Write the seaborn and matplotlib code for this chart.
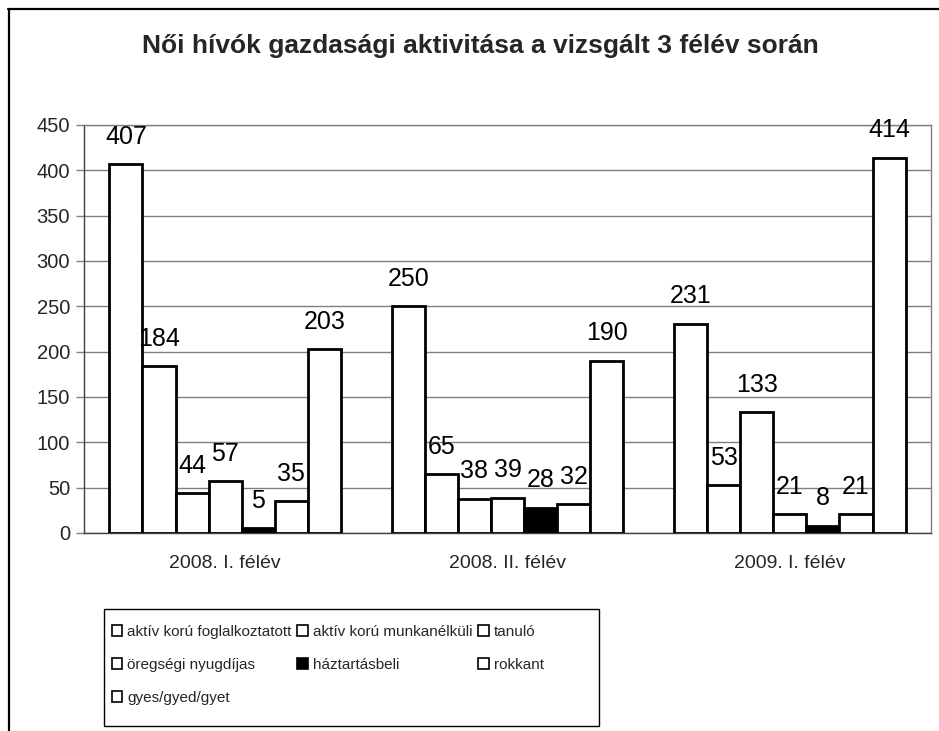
import matplotlib
matplotlib.use("Agg")
import matplotlib.pyplot as plt
from matplotlib.lines import Line2D
from matplotlib.patches import Patch, Rectangle
import seaborn as sns
import pandas as pd

categories = ["2008. I. félév", "2008. II. félév", "2009. I. félév"]
series = ["aktív korú foglalkoztatott", "aktív korú munkanélküli", "tanuló",
          "öregségi nyugdíjas", "háztartásbeli", "rokkant", "gyes/gyed/gyet"]
aktiv_foglalkoztatott = [407, 250, 231]
aktiv_munkanelkuli = [184, 65, 53]
tanulo = [44, 38, 133]
oregsegi_nyugdijas = [57, 39, 21]
haztartasbeli = [5, 28, 8]
rokkant = [35, 32, 21]
gyes = [203, 190, 414]
values = [aktiv_foglalkoztatott, aktiv_munkanelkuli, tanulo, oregsegi_nyugdijas,
          haztartasbeli, rokkant, gyes]
yticks = [0, 50, 100, 150, 200, 250, 300, 350, 400, 450]

rows = []
for s, vals in zip(series, values):
    for c, v in zip(categories, vals):
        rows.append({"cat": c, "series": s, "value": v})
df = pd.DataFrame(rows)

sns.set_style("white")
plt.rcParams["font.family"] = ["Liberation Sans", "DejaVu Sans"]

W, H = 939, 731
fig = plt.figure(figsize=(W / 100, H / 100), dpi=100)
ax = fig.add_axes([84 / W, (H - 533) / H, (931 - 84) / W, (533 - 125) / H])

palette = {s: "white" for s in series}
palette["háztartásbeli"] = "black"
sns.barplot(data=df, x="cat", y="value", hue="series", order=categories,
            hue_order=series, palette=palette, edgecolor="black", linewidth=2,
            width=0.82, ax=ax, legend=False, saturation=1, zorder=3)

for cont in ax.containers:
    ax.bar_label(cont, padding=11, fontsize=18, color="black")

ax.set_ylim(0, 450)
ax.set_xlim(-0.5, 2.5)
ax.set_yticks(yticks)
ax.set_yticklabels([str(t) for t in yticks], fontsize=14.5)
ax.yaxis.grid(True, color="#808080", linewidth=1, zorder=0)
ax.set_axisbelow(True)
ax.set_xticks([-0.5, 0.5, 1.5, 2.5])
ax.set_xticklabels([])
ax.set_xticks([0, 1, 2], minor=True)
ax.set_xticklabels(categories, minor=True, fontsize=14)
ax.tick_params(axis="x", which="major", length=6, width=1, color="#808080", direction="out")
ax.tick_params(axis="x", which="minor", length=0, pad=16)
ax.tick_params(axis="y", length=6, width=1, color="#808080", direction="out", left=True, pad=4)
ax.set_xlabel("")
ax.set_ylabel("")
for sp in ax.spines.values():
    sp.set_color("#808080")
    sp.set_linewidth(1)
    sp.set_visible(True)
ax.spines["bottom"].set_color("#404040")
ax.spines["left"].set_color("#404040")

fig.text(480 / W, 1 - 46 / H, "Női hívók gazdasági aktivitása a vizsgált 3 félév során",
         ha="center", va="center", fontsize=19, fontweight="bold")

# legend
handles = []
for s in series:
    fc = "black" if s == "háztartásbeli" else "white"
    handles.append(Patch(facecolor=fc, edgecolor="black", linewidth=1.2, label=s))
order = [0, 3, 6, 1, 4, 2, 5]
leg = fig.legend([handles[i] for i in order], [series[i] for i in order],
                 ncol=3, frameon=False, loc="upper left",
                 bbox_to_anchor=(101 / W, 1 - 614 / H), fontsize=11,
                 handlelength=0.7, handleheight=0.7, handletextpad=0.3,
                 columnspacing=0.4, labelspacing=1.25, borderpad=0.2)
fig.add_artist(Rectangle((104 / W, 1 - 726 / H), (599 - 104) / W, (726 - 609) / H,
                         transform=fig.transFigure, fill=False, edgecolor="black", linewidth=1))

# outer chart border (partially visible)
fig.add_artist(Line2D([8 / W, 1.0], [1 - 9 / H, 1 - 9 / H], transform=fig.transFigure,
                      color="black", linewidth=1.6))
fig.add_artist(Line2D([9 / W, 9 / W], [0, 1 - 9 / H], transform=fig.transFigure,
                      color="black", linewidth=1.6))

fig.savefig("out.png", dpi=100, facecolor="white")
